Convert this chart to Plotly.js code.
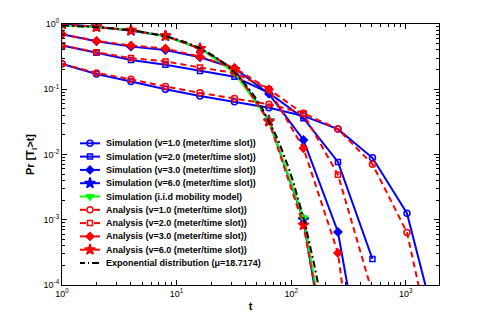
<!DOCTYPE html>
<html><head><meta charset="utf-8">
<script src="https://cdn.plot.ly/plotly-3.0.1.min.js"></script>
<style>html,body{margin:0;padding:0;background:#fff}#chart{width:485px;height:321px}</style>
</head><body><div id="chart"></div>
<script>
var t = [1, 2, 4, 8, 16, 32, 64, 128, 256, 512, 1024, 2048];
var sim1 = [0.245, 0.171, 0.131, 0.100, 0.079, 0.0645, 0.052, 0.039, 0.0245, 0.0089, 0.00126, 0.000011];
var sim2 = [0.47, 0.363, 0.28, 0.238, 0.19, 0.155, 0.088, 0.036, 0.0077, 0.00025];
var sim3 = [0.695, 0.545, 0.45, 0.40, 0.31, 0.21, 0.085, 0.0167, 0.00065, 0.0000007];
var sim6 = [1.0, 0.91, 0.79, 0.655, 0.42, 0.2, 0.033, 0.001, 0.0000006];
var simIid = [0.95, 0.90, 0.81, 0.65, 0.425, 0.18, 0.033, 0.00107, 0.0000011];
var ana1 = [0.245, 0.178, 0.142, 0.110, 0.088, 0.072, 0.059, 0.043, 0.0245, 0.0071, 0.00064, 0.0000025];
var ana2 = [0.47, 0.37, 0.30, 0.267, 0.215, 0.178, 0.10, 0.042, 0.0049, 0.000075];
var ana3 = [0.695, 0.55, 0.47, 0.42, 0.316, 0.212, 0.10, 0.0125, 0.00031, 0.00000003];
var ana6 = [1.0, 0.90, 0.80, 0.66, 0.42, 0.20, 0.032, 0.00083, 0.000001];
var expT = [1, 2, 4, 8, 12, 16, 20, 24, 28, 32, 40, 48, 56, 64, 72, 80, 88, 96, 104, 112, 120, 128, 136, 144, 152, 160, 168, 176];
var expP = [0.9480, 0.8987, 0.8076, 0.6522, 0.5267, 0.4254, 0.3435, 0.2774, 0.2241, 0.1809, 0.1180, 0.0769, 0.0502, 0.0327, 0.0214, 0.0139, 0.00908, 0.00592, 0.00386, 0.00252, 0.00164, 0.00107, 0.000698, 0.000455, 0.000297, 0.000194, 0.000126, 0.0000825];
var names = ['Simulation (v=1.0 (meter/time slot))','Simulation (v=2.0 (meter/time slot))','Simulation (v=3.0 (meter/time slot))','Simulation (v=6.0 (meter/time slot))','Simulation (i.i.d mobility model)','Analysis (v=1.0 (meter/time slot))','Analysis (v=2.0 (meter/time slot))','Analysis (v=3.0 (meter/time slot))','Analysis (v=6.0 (meter/time slot))','Exponential distribution (\u03bc=18.7174)'];
var xTickText = ['10<sup>0</sup>', '10<sup>1</sup>', '10<sup>2</sup>', '10<sup>3</sup>'];
var yTickText = ['10<sup>-4</sup>', '10<sup>-3</sup>', '10<sup>-2</sup>', '10<sup>-1</sup>', '10<sup>0</sup>'];

var BLUE = '#0000ff', RED = '#ff0000', GREEN = '#00ff00';
var DASH = '6px,4px', DASHDOT = '7px,3px,2px,3px';
var styles = [
  {c: BLUE, d: 'solid', s: 'circle-open', z: 6},
  {c: BLUE, d: 'solid', s: 'square-open', z: 5},
  {c: BLUE, d: 'solid', s: 'diamond', z: 6},
  {c: BLUE, d: 'solid', s: 'star', z: 8},
  {c: GREEN, d: 'solid', s: 'triangle-down', z: 7},
  {c: RED, d: DASH, s: 'circle-open', z: 6},
  {c: RED, d: DASH, s: 'square-open', z: 5},
  {c: RED, d: DASH, s: 'diamond', z: 6},
  {c: RED, d: DASH, s: 'star', z: 8},
  {c: '#000', d: DASHDOT, s: null, z: 0}
];
var series = [sim1, sim2, sim3, sim6, simIid, ana1, ana2, ana3, ana6];

var data = [];
series.forEach(function (y, i) {
  var st = styles[i];
  data.push({x: t.slice(0, y.length), y: y, name: names[i], type: 'scatter', mode: 'lines+markers',
    showlegend: false,
    line: {color: st.c, width: 2, dash: st.d},
    marker: {symbol: st.s, size: st.z, color: st.c, line: {color: st.c, width: 1.5}}});
});
data.push({x: expT, y: expP, name: names[9], type: 'scatter', mode: 'lines', showlegend: false,
  line: {color: '#000', width: 2, dash: DASHDOT}});

// custom legend (drawn in an overlay axis spanning the plot area)
var L = 62, T = 24, W = 377, H = 261;
function px2x(p) { return (p - L) / W; }
function py2y(p) { return (T + H - p) / H; }
var annotations = [];
styles.forEach(function (st, i) {
  var yp = py2y(143.3 + 13.3 * i);
  var xs;
  if (i === 9) { xs = [80, 85, null, 88, 89, null, 92, 99]; }
  else if (st.d === 'solid') { xs = [80, 100]; }
  else { xs = [80, 86, null, 94, 100]; }
  var ys = xs.map(function (v) { return v === null ? null : yp; });
  data.push({x: xs.map(function (v) { return v === null ? null : px2x(v); }), y: ys,
    xaxis: 'x2', yaxis: 'y2', type: 'scatter', mode: 'lines', showlegend: false,
    line: {color: st.c, width: 2}});
  if (st.s) {
    data.push({x: [px2x(90)], y: [yp], xaxis: 'x2', yaxis: 'y2', type: 'scatter', mode: 'markers',
      showlegend: false, marker: {symbol: st.s, size: st.z, color: st.c, line: {color: st.c, width: 1.5}}});
  }
  annotations.push({xref: 'x2', yref: 'y2', x: px2x(105), y: yp, xanchor: 'left', yanchor: 'middle',
    text: '<b>' + names[i] + '</b>', showarrow: false, font: {size: 9, color: '#000'}, borderpad: 0});
});

var minorX = [], minorY = [];
[1, 10, 100, 1000].forEach(function (d) { for (var k = 2; k <= 9; k++) minorX.push(d * k); });
[1e-4, 1e-3, 1e-2, 1e-1].forEach(function (d) { for (var k = 2; k <= 9; k++) minorY.push(d * k); });

var layout = {
  width: 485, height: 321,
  margin: {l: 62, r: 46, t: 24, b: 36},
  paper_bgcolor: '#fff', plot_bgcolor: '#fff',
  font: {family: 'Liberation Sans, Arial, sans-serif', size: 9, color: '#000'},
  showlegend: false,
  annotations: annotations,
  xaxis: {type: 'log', range: [0, 3.29], showgrid: false, zeroline: false,
    showline: true, linecolor: '#000', linewidth: 1, mirror: 'allticks',
    ticks: 'inside', ticklen: 5, tickcolor: '#000',
    tickmode: 'array', tickvals: [1, 10, 100, 1000], ticktext: xTickText,
    minor: {tickmode: 'array', tickvals: minorX, ticks: 'inside', ticklen: 3, tickcolor: '#000', showgrid: false},
    title: {text: 't', font: {size: 11, weight: 'bold'}, standoff: 4}},
  yaxis: {type: 'log', range: [-4, 0], showgrid: false, zeroline: false,
    showline: true, linecolor: '#000', linewidth: 1, mirror: 'allticks',
    ticks: 'inside', ticklen: 5, tickcolor: '#000',
    tickmode: 'array', tickvals: [1e-4, 1e-3, 1e-2, 1e-1, 1], ticktext: yTickText,
    minor: {tickmode: 'array', tickvals: minorY, ticks: 'inside', ticklen: 3, tickcolor: '#000', showgrid: false},
    title: {text: 'Pr [T<sub>I</sub>&gt;t]', font: {size: 11, weight: 'bold'}, standoff: 6}},
  xaxis2: {overlaying: 'x', range: [0, 1], visible: false, fixedrange: true},
  yaxis2: {overlaying: 'y', range: [0, 1], visible: false, fixedrange: true}
};
Plotly.newPlot('chart', data, layout, {displayModeBar: false, staticPlot: true});
</script></body></html>
